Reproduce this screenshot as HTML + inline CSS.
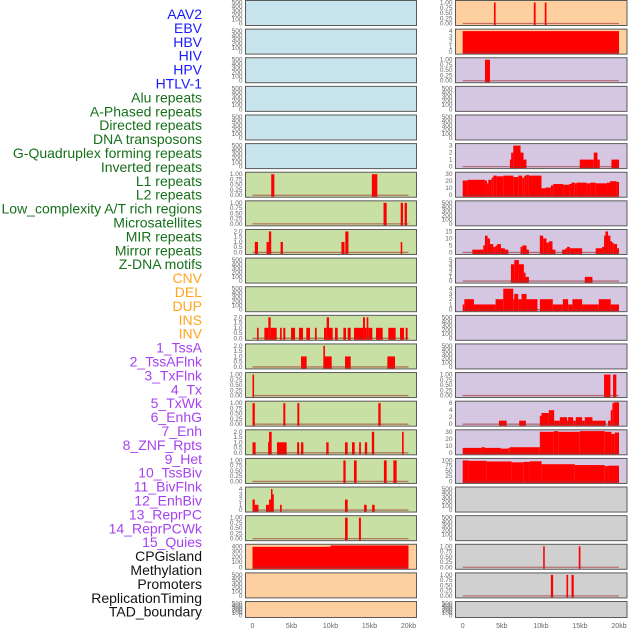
<!DOCTYPE html>
<html><head><meta charset="utf-8"><style>
html,body{margin:0;padding:0;background:#fff;width:630px;height:630px;overflow:hidden}
svg{display:block;font-family:"Liberation Sans",sans-serif}
</style></head><body>
<svg id="chart" width="630" height="630" viewBox="0 0 630 630" xmlns="http://www.w3.org/2000/svg"></svg>
<script>
// ---- Data ----
const trackLabels = ["AAV2","EBV","HBV","HIV","HPV","HTLV-1","Alu repeats","A-Phased repeats","Directed repeats","DNA transposons","G-Quadruplex forming repeats","Inverted repeats","L1 repeats","L2 repeats","Low_complexity A/T rich regions","Microsatellites","MIR repeats","Mirror repeats","Z-DNA motifs","CNV","DEL","DUP","INS","INV","1_TssA","2_TssAFlnk","3_TxFlnk","4_Tx","5_TxWk","6_EnhG","7_Enh","8_ZNF_Rpts","9_Het","10_TssBiv","11_BivFlnk","12_EnhBiv","13_ReprPC","14_ReprPCWk","15_Quies","CPGisland","Methylation","Promoters","ReplicationTiming","TAD_boundary"];
const labelGroups = [6,13,5,15,5]; // blue, green, orange, purple, black
const xTickLabels = ["0","5kb","10kb","15kb","20kb"];
const xTickValues = [0,5,10,15,20];

// segments: [startKb, endKb, value]
const L06 = [[2.4,2.8,1],[15.3,16.0,1]];
const L07 = [[16.8,17.2,1],[19.0,19.3,1],[19.5,19.8,1]];
const L08 = [[0.3,0.7,1],[1.8,2.1,1],[2.1,2.4,2],[3.6,3.9,1],[11.4,11.8,1],[11.9,12.3,2],[19.0,19.2,1]];
const L11 = [[0.58,0.79,1],[1.52,2.03,1],[2.03,2.33,2],[2.33,3.1,1],[3.53,3.74,1],[3.95,4.21,1],[4.94,5.45,1],[5.96,6.47,1],[6.9,7.37,1],[8.01,8.23,1],[9.17,9.51,1],[9.51,9.81,2],[9.81,10.28,1],[10.58,10.92,1],[11.65,11.99,1],[12.2,12.59,1],[13.01,14.17,1],[14.17,14.42,2],[14.42,14.64,1],[14.64,14.85,2],[14.85,15.36,1],[15.83,16.69,1],[17.41,18.35,1],[18.91,19.42,1],[19.64,19.89,1]];
const L12 = [[6.22,6.94,1],[9.08,9.29,2],[9.29,10.15,1],[11.86,12.59,1],[17.29,18.27,1]];
const L13 = [[0,0.2,1]];
const L14 = [[0,0.3,1],[3.95,4.21,1],[5.75,6.0,1],[16.13,16.43,1]];
const L15 = [[0,0.4,1],[2.0,2.12,1],[2.12,2.46,2],[3.14,4.38,1],[5.72,5.98,1],[6.22,6.52,1],[9.46,9.76,1],[11.86,12.2,1],[12.76,13.1,1],[13.67,13.9,1],[14.4,14.7,1],[15.3,15.6,2],[19.17,19.38,2]];
const L16 = [[11.65,11.94,1],[13.01,13.35,1],[16.85,17.2,1],[18.06,18.48,1]];
const L17 = [[0,0.3,2],[0.3,0.76,1],[1.73,2.12,1],[2.12,2.37,2],[2.37,2.54,4],[2.54,2.7,3],[3.53,3.74,1],[11.86,12.2,2],[14.3,14.64,1],[15.33,15.66,1]];
const L18 = [[11.86,12.2,1],[13.64,13.9,1]];
const L19 = [[0,10.0,390],[10.0,20.0,450]];

const R00 = [[4.0,4.21,1],[9.1,9.33,1],[10.5,10.72,1]];
const R01 = [[0,20,4]];
const R02 = [[2.85,3.49,1]];
const R05 = [[6.04,6.2,1],[6.2,6.47,2],[6.47,7.4,3],[7.4,7.78,2],[7.78,8.16,1],[14.98,16.77,1],[16.77,17.24,2],[17.24,17.54,1],[19.03,20,1]];
const R06 = [[0,0.63,21],[0.63,2.85,22],[2.85,3.1,21],[3.1,3.27,17],[3.27,3.7,22],[3.7,3.91,25],[3.91,4.34,28],[4.34,5.19,27],[5.19,6.47,28],[6.47,7.1,26],[7.1,7.62,28],[7.62,7.87,25],[7.87,8.17,28],[8.17,8.47,29],[8.47,10.08,28],[10.08,10.6,10],[10.6,11.28,11],[11.28,11.58,14],[11.58,12.85,16],[12.85,13.62,15],[13.62,13.92,16],[13.92,14.34,18],[14.34,14.55,17],[14.55,15.83,18],[15.83,16.34,17],[16.34,17.02,18],[17.02,18.47,17],[18.47,18.85,18],[18.85,19.66,20],[19.66,20,19]];
const R08 = [[1.23,2.63,2],[2.63,2.85,5],[2.85,3.19,12],[3.19,3.49,10],[3.49,3.91,6],[3.91,4.21,4],[4.21,4.42,5],[4.42,4.89,6],[4.89,5.4,3],[5.4,5.83,2],[7.4,7.62,4],[7.62,8.17,5],[8.17,8.47,2],[9.87,10.3,12],[10.3,10.72,10],[10.72,11.02,7],[11.02,11.49,8],[11.49,11.87,2],[12.72,13.15,2],[13.15,13.36,3],[13.36,13.7,4],[13.7,15.28,3],[17.02,17.83,3],[17.83,18.09,4],[18.09,18.26,12],[18.26,18.6,15],[18.6,18.9,12],[18.9,19.11,8],[19.11,19.32,7],[19.32,19.75,6],[19.75,20,3]];
const R09 = [[6.17,6.6,4],[6.6,7.19,5],[7.19,7.83,4],[7.83,8.04,2],[8.04,8.47,1],[15.62,16.6,1]];
const R10 = [[0,0.21,1],[0.21,1.44,2],[1.44,4.21,1],[4.21,5.19,2],[5.19,6.47,4],[6.47,6.6,2],[6.6,7.1,3],[7.1,7.53,2],[7.53,8.17,3],[8.17,9.57,2],[9.87,11.53,2],[11.53,12.81,1],[12.81,13.49,2],[13.49,14.04,1],[14.04,15.28,2],[15.28,17.41,1],[17.41,18.94,2],[18.94,20,1]];
const R13 = [[18.09,18.9,1],[19.24,19.66,1]];
const R14 = [[4.64,5.62,1],[7.23,8.08,1],[9.87,10.08,2.4],[10.08,11.02,3.2],[11.02,11.7,4],[11.7,12.43,1],[12.43,13.36,2],[13.36,13.49,1],[13.49,14.13,2],[14.13,14.47,1],[14.47,15.28,2],[15.28,15.62,1],[15.62,16.6,2],[16.6,18.3,1],[18.6,18.94,1],[18.94,19.15,4],[19.15,19.32,6],[19.32,20,6.3]];
const R15 = [[0,2.42,7],[2.42,2.85,8],[2.85,4.89,7],[4.89,5.83,6],[5.83,6.04,7],[6.04,9.87,8],[9.87,11.66,30],[11.66,12.21,31],[12.21,14.98,30],[14.98,18.18,31],[18.18,19.03,30],[19.03,19.45,27],[19.45,20,29]];
const R16 = [[0,0.73,100],[0.73,3.07,98],[3.07,6.26,95],[6.26,7.75,91],[7.75,8.6,93],[8.6,10.1,96],[10.1,14.35,82],[14.35,18.18,78],[18.18,18.6,73],[18.6,20,75]];
const R19 = [[10.3,10.5,1],[14.85,15.07,1]];
const R20 = [[11.28,11.57,1],[13.28,13.49,1],[13.92,14.21,1]];

// tick label sets
const T500 = ["0","100","200","300","400","500"];
const T1 = ["0.00","0.25","0.50","0.75","1.00"];
const T2 = ["0.0","0.5","1.0","1.5","2.0"];
const T3 = ["0","1","2","3"];
const T4 = ["0","1","2","3","4"];
const T5 = ["0","1","2","3","4","5"];
const T6 = ["0","2","4","6"];
const T15 = ["0","5","10","15"];
const T30 = ["0","10","20","30"];
const T100 = ["0","25","50","75","100"];
const T400 = ["0","100","200","300","400"];

// panels: [column, row, bg, data, ticks, ymax]
const leftPanels = [
 ["b",null,T500,500],["b",null,T500,500],["b",null,T500,500],["b",null,T500,500],["b",null,T500,500],["b",null,T500,500],
 ["g",L06,T1,1],["g",L07,T1,1],["g",L08,T2,2],["g",null,T500,500],["g",null,T500,500],["g",L11,T2,2],["g",L12,T2,2],
 ["g",L13,T1,1],["g",L14,T1,1],["g",L15,T2,2],["g",L16,T1,1],["g",L17,T4,4],["g",L18,T1,1],
 ["o",L19,T400,420],["o",null,T500,500],["o",null,T500,500]
];
const rightPanels = [
 ["o",R00,T1,1],["o",R01,T4,4],["p",R02,T1,1],["p",null,T500,500],["p",null,T500,500],["p",R05,T3,3],["p",R06,T30,30],
 ["p",null,T500,500],["p",R08,T15,15],["p",R09,T5,5],["p",R10,T4,4],["p",null,T500,500],["p",null,T500,500],
 ["p",R13,T1,1],["p",R14,T6,6],["p",R15,T30,30],["p",R16,T100,100],["gr",null,T500,500],["gr",null,T500,500],
 ["gr",R19,T1,1],["gr",R20,T1,1],["gr",null,T500,500]
];

// ---- Rendering ----
const NS="http://www.w3.org/2000/svg";
const svg=document.getElementById('chart');
const BG={b:"#c7e4ec",g:"#c8e0a3",o:"#fecf9f",p:"#d5c6e2",gr:"#d0d0d0"};
const LABEL_COLORS=["#1a1aff","#16701a","#ffa51f","#a642f0","#111111"];
function mk(tag,attrs){const e=document.createElementNS(NS,tag);for(const k in attrs)e.setAttribute(k,attrs[k]);return e;}

// labels
let gi=0,cnt=0;
trackLabels.forEach((t,i)=>{
  while(cnt>=labelGroups[gi]){cnt=0;gi++;}
  cnt++;
  const e=mk('text',{x:202,y:(19+i*13.9).toFixed(1),'text-anchor':'end','font-size':'14',fill:LABEL_COLORS[gi]});
  e.textContent=t;
  
  
  svg.appendChild(e);
});

function drawPanel(p,row,colX0,colX1,dataX0,dataX1,side){
  const [bg,data,ticks,ymax]=p;
  const top=row*28.62+0.5;
  const h=row===21?16:25;
  const bottom=top+h;
  const g=mk('g',{});
  
  
  svg.appendChild(g);
  g.appendChild(mk('rect',{x:colX0,y:top,width:colX1-colX0,height:h,fill:BG[bg],stroke:"#5a5a5a",'stroke-width':1}));
  const y0=bottom-2, y1=top+2;
  const tickMax=parseFloat(ticks[ticks.length-1]);
  const yScale=v=>y0-(v/tickMax)*(y0-y1);
  const xScale=kb=>dataX0+kb/20*(dataX1-dataX0);
  ticks.forEach(t=>{
    const e=mk('text',{x:colX0-3,y:(yScale(parseFloat(t))+2).toFixed(2),'text-anchor':'end','font-size':'6.5',fill:"#666"});
    e.textContent=t;
    
    
    g.appendChild(e);
  });
  if(data){
    data.forEach(s=>{
      const v=Math.min(s[2],tickMax*1.04);
      const yt=Math.max(yScale(v),top+0.5);
      const r=mk('rect',{x:xScale(s[0]).toFixed(2),y:yt.toFixed(2),width:Math.max(xScale(s[1])-xScale(s[0]),1.5).toFixed(2),height:(bottom-0.5-yt).toFixed(2),fill:"#ff0000"});
      
      
      g.appendChild(r);
    });
    const bl=mk('line',{x1:xScale(0),x2:xScale(20),y1:y0,y2:y0,stroke:"#a03030",'stroke-opacity':0.6,'stroke-width':1.3});
    
    
    g.appendChild(bl);
  }
}
leftPanels.forEach((p,i)=>drawPanel(p,i,245.5,416.5,252.5,408.5,'left'));
rightPanels.forEach((p,i)=>drawPanel(p,i,455.5,627,462.7,619,'right'));

// x axes
[[252.5,408.5,'left'],[462.7,619,'right']].forEach(([a,b,side])=>{
  xTickValues.forEach((v,i)=>{
    const e=mk('text',{x:(a+v/20*(b-a)).toFixed(1),y:628,'text-anchor':'middle','font-size':'7',fill:"#666"});
    e.textContent=xTickLabels[i];
    
    
    svg.appendChild(e);
  });
});
</script>
</body></html>
